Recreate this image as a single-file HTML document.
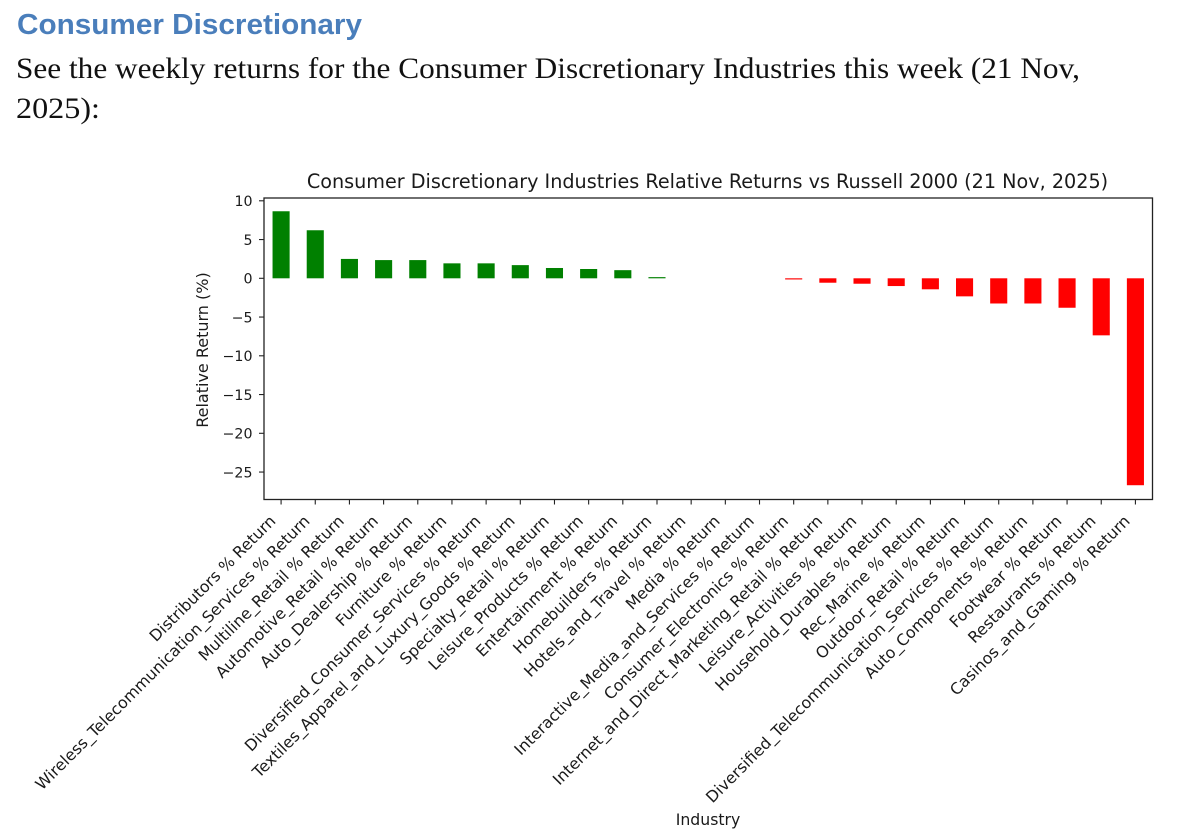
<!DOCTYPE html>
<html lang="en">
<head>
<meta charset="utf-8">
<title>Consumer Discretionary Relative Returns</title>
<style>
html,body{margin:0;padding:0;background:#fff;}
#stage{display:block;width:1180px;height:836px;}
.chart-text{font-family:"DejaVu Sans","Liberation Sans",sans-serif;fill:#1a1a1a;}
</style>
</head>
<body>
<svg id="stage" width="1180" height="836" viewBox="0 0 1180 836">
  <text x="17" y="34" font-family="Liberation Sans, sans-serif" font-weight="700" font-size="29" fill="#4a7ebb" textLength="345" lengthAdjust="spacingAndGlyphs">Consumer Discretionary</text>
  <text x="16" y="78" font-family="Liberation Serif, serif" font-size="30" fill="#111" textLength="1064" lengthAdjust="spacingAndGlyphs">See the weekly returns for the Consumer Discretionary Industries this week (21 Nov,</text>
  <text x="16" y="118" font-family="Liberation Serif, serif" font-size="30" fill="#111" textLength="84" lengthAdjust="spacingAndGlyphs">2025):</text>
  <g id="chart"></g>
</svg>
<script>
const categories = [
  "Distributors % Return",
  "Wireless_Telecommunication_Services % Return",
  "Multiline_Retail % Return",
  "Automotive_Retail % Return",
  "Auto_Dealership % Return",
  "Furniture % Return",
  "Diversified_Consumer_Services % Return",
  "Textiles_Apparel_and_Luxury_Goods % Return",
  "Specialty_Retail % Return",
  "Leisure_Products % Return",
  "Entertainment % Return",
  "Homebuilders % Return",
  "Hotels_and_Travel % Return",
  "Media % Return",
  "Interactive_Media_and_Services % Return",
  "Consumer_Electronics % Return",
  "Internet_and_Direct_Marketing_Retail % Return",
  "Leisure_Activities % Return",
  "Household_Durables % Return",
  "Rec_Marine % Return",
  "Outdoor_Retail % Return",
  "Diversified_Telecommunication_Services % Return",
  "Auto_Components % Return",
  "Footwear % Return",
  "Restaurants % Return",
  "Casinos_and_Gaming % Return"
];
const relativeReturns = [8.65, 6.2, 2.5, 2.35, 2.35, 1.93, 1.93, 1.7, 1.33, 1.2, 1.05, 0.15, 0, 0, 0, -0.15, -0.57, -0.7, -1.0, -1.42, -2.33, -3.25, -3.25, -3.8, -7.36, -26.7];
const yTicks = [10, 5, 0, -5, -10, -15, -20, -25];
const chartTitle = "Consumer Discretionary Industries Relative Returns vs Russell 2000 (21 Nov, 2025)";
const yAxisTitle = "Relative Return (%)";
const xAxisTitle = "Industry";

const SVG_NS = "http://www.w3.org/2000/svg";
const chart = document.getElementById("chart");
const plot = { left: 264, right: 1152.5, top: 198, bottom: 499.5 };

function xScale(i) {
  const domainMin = -0.5;
  const domainMax = categories.length - 0.5;
  return plot.left + (i - domainMin) / (domainMax - domainMin) * (plot.right - plot.left);
}
function yScale(v) {
  return 278.3 - v * 7.75;
}
function make(tag, attrs, text) {
  const el = document.createElementNS(SVG_NS, tag);
  Object.keys(attrs).forEach(function (k) { el.setAttribute(k, attrs[k]); });
  if (text !== undefined) el.textContent = text;
  chart.appendChild(el);
  return el;
}

const bandWidth = xScale(1) - xScale(0);
const barWidth = bandWidth * 0.5;

relativeReturns.forEach(function (v, i) {
  const y0 = yScale(0);
  const y1 = yScale(v);
  const bar = make("rect", {
    x: xScale(i) - barWidth / 2,
    y: Math.min(y0, y1),
    width: barWidth,
    height: Math.abs(y1 - y0),
    fill: v >= 0 ? "#008000" : "#ff0000"
  });
  
  
});

const frame = make("rect", {
  x: plot.left,
  y: plot.top,
  width: plot.right - plot.left,
  height: plot.bottom - plot.top,
  fill: "none",
  stroke: "#222",
  "stroke-width": 1.3
});



yTicks.forEach(function (t) {
  const y = yScale(t);
  const tick = make("line", { x1: plot.left - 5, x2: plot.left, y1: y, y2: y, stroke: "#222", "stroke-width": 1.1 });
  
  
  const label = make("text", {
    x: 252.5,
    y: y + 5.2,
    "text-anchor": "end",
    "font-size": 14.2,
    class: "chart-text"
  }, String(t).replace("-", "\u2212"));
  
  
});

categories.forEach(function (name, i) {
  const x = xScale(i);
  const tick = make("line", { x1: x, x2: x, y1: plot.bottom, y2: plot.bottom + 5, stroke: "#222", "stroke-width": 1.1 });
  
  
  const ax = x - 4.5;
  const ay = 522;
  const label = make("text", {
    x: ax,
    y: ay,
    "text-anchor": "end",
    "font-size": 15.85,
    transform: "rotate(-45 " + ax + " " + ay + ")",
    class: "chart-text"
  }, name);
  
  
});

const titleEl = make("text", {
  x: 707.5,
  y: 188,
  "text-anchor": "middle",
  "font-size": 19.2,
  class: "chart-text"
}, chartTitle);



const yTitleEl = make("text", {
  x: 208,
  y: 350,
  "text-anchor": "middle",
  "font-size": 16,
  transform: "rotate(-90 208 350)",
  class: "chart-text"
}, yAxisTitle);



const xTitleEl = make("text", {
  x: 708,
  y: 825,
  "text-anchor": "middle",
  "font-size": 15.7,
  class: "chart-text"
}, xAxisTitle);


</script>
</body>
</html>
